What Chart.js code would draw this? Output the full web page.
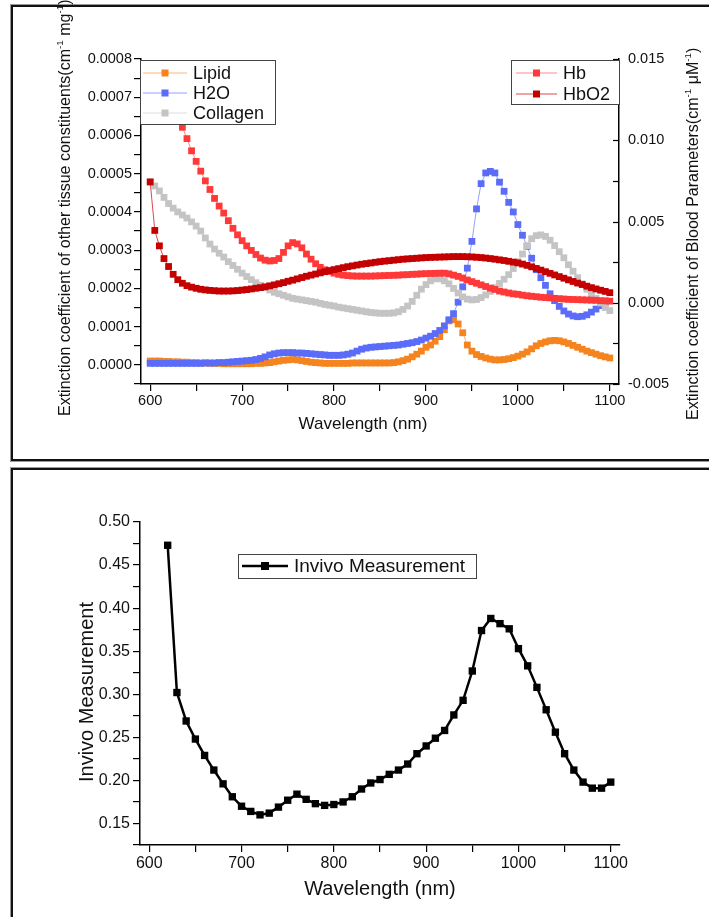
<!DOCTYPE html>
<html>
<head>
<meta charset="utf-8">
<title>Extinction spectra and in vivo measurement</title>
<script src="https://cdn.jsdelivr.net/npm/chart.js@4.4.1/dist/chart.umd.min.js"></script>
<style>
  html, body { margin: 0; padding: 0; background: #fff; }
  body { width: 709px; height: 917px; position: relative; overflow: hidden; }
  .panel { position: absolute; border: 2px solid #111; box-shadow: 0 0 0 1px #999; }
  #panelTop { left: 11px; top: 5px; width: 720px; height: 452px; }
  #panelBottom { left: 11px; top: 468px; width: 720px; height: 470px; }
  canvas { position: absolute; left: 0; }
  #spectra { top: 0; }
  #invivo { top: 460px; }
</style>
</head>
<body>
<div class="panel" id="panelTop"></div>
<div class="panel" id="panelBottom"></div>
<canvas id="spectra" width="709" height="460"></canvas>
<canvas id="invivo" width="709" height="457"></canvas>
<script>
// wavelength grid of the tabulated spectra (nm)
const wavelengths = [
  600, 605, 610, 615, 620, 625, 630, 635, 640, 645, 650, 655, 660, 665, 670, 675, 680, 685, 690, 695,
  700, 705, 710, 715, 720, 725, 730, 735, 740, 745, 750, 755, 760, 765, 770, 775, 780, 785, 790, 795,
  800, 805, 810, 815, 820, 825, 830, 835, 840, 845, 850, 855, 860, 865, 870, 875, 880, 885, 890, 895,
  900, 905, 910, 915, 920, 925, 930, 935, 940, 945, 950, 955, 960, 965, 970, 975, 980, 985, 990, 995,
  1000, 1005, 1010, 1015, 1020, 1025, 1030, 1035, 1040, 1045, 1050, 1055, 1060, 1065, 1070, 1075, 1080, 1085, 1090, 1095,
  1100
];

// other tissue constituents, in units of 1e-4 cm^-1 mg^-1
const TISSUE_UNIT = 1e-4;
const lipid = [
  0.10, 0.10, 0.10, 0.09, 0.09, 0.08, 0.08, 0.07, 0.07, 0.06, 0.06, 0.05, 0.05, 0.04, 0.04, 0.04, 0.03, 0.03, 0.03, 0.03,
  0.03, 0.03, 0.03, 0.04, 0.04, 0.05, 0.06, 0.08, 0.10, 0.12, 0.13, 0.14, 0.13, 0.11, 0.09, 0.07, 0.06, 0.05, 0.04, 0.04,
  0.04, 0.04, 0.04, 0.04, 0.05, 0.05, 0.05, 0.05, 0.05, 0.05, 0.05, 0.05, 0.05, 0.06, 0.08, 0.11, 0.15, 0.21, 0.28, 0.36,
  0.46, 0.52, 0.62, 0.74, 0.92, 1.15, 1.18, 1.07, 0.84, 0.52, 0.36, 0.27, 0.22, 0.18, 0.15, 0.13, 0.13, 0.14, 0.16, 0.19,
  0.23, 0.28, 0.34, 0.42, 0.50, 0.56, 0.60, 0.63, 0.64, 0.63, 0.60, 0.56, 0.51, 0.46, 0.41, 0.36, 0.32, 0.28, 0.24, 0.21,
  0.18
];
const water = [
  0.04, 0.04, 0.04, 0.04, 0.04, 0.04, 0.04, 0.04, 0.04, 0.04, 0.04, 0.04, 0.05, 0.05, 0.05, 0.06, 0.06, 0.07, 0.08, 0.09,
  0.10, 0.11, 0.12, 0.14, 0.17, 0.21, 0.26, 0.29, 0.31, 0.32, 0.32, 0.32, 0.31, 0.31, 0.30, 0.29, 0.28, 0.27, 0.26, 0.25,
  0.25, 0.25, 0.26, 0.28, 0.31, 0.36, 0.41, 0.44, 0.46, 0.47, 0.48, 0.49, 0.50, 0.51, 0.52, 0.54, 0.56, 0.58, 0.61, 0.65,
  0.70, 0.75, 0.82, 0.90, 1.02, 1.18, 1.34, 1.64, 2.04, 2.53, 3.23, 4.08, 4.74, 5.02, 5.06, 5.02, 4.78, 4.54, 4.25, 4.00,
  3.67, 3.39, 3.10, 2.79, 2.49, 2.28, 2.08, 1.86, 1.68, 1.53, 1.41, 1.33, 1.28, 1.26, 1.27, 1.31, 1.38, 1.46, 1.55, 1.62,
  null
];
const collagen = [
  4.80, 4.68, 4.55, 4.38, 4.22, 4.10, 4.00, 3.92, 3.84, 3.74, 3.63, 3.50, 3.32, 3.16, 3.03, 2.92, 2.82, 2.70, 2.60, 2.50,
  2.40, 2.31, 2.23, 2.15, 2.08, 2.02, 1.96, 1.90, 1.86, 1.82, 1.78, 1.74, 1.72, 1.70, 1.68, 1.66, 1.64, 1.61, 1.58, 1.56,
  1.54, 1.51, 1.49, 1.47, 1.45, 1.43, 1.41, 1.39, 1.37, 1.36, 1.35, 1.35, 1.35, 1.36, 1.39, 1.45, 1.54, 1.66, 1.82, 1.98,
  2.10, 2.20, 2.25, 2.25, 2.20, 2.12, 2.00, 1.88, 1.78, 1.72, 1.70, 1.71, 1.76, 1.83, 1.92, 2.02, 2.13, 2.24, 2.36, 2.52,
  2.70, 2.90, 3.12, 3.30, 3.38, 3.40, 3.36, 3.26, 3.12, 2.96, 2.80, 2.62, 2.45, 2.28, 2.12, 1.98, 1.86, 1.74, 1.62, 1.50,
  1.42
];

// blood parameters, in units of 1e-3 cm^-1 uM^-1
const BLOOD_UNIT = 1e-3;
const hb = [
  null, null, null, null, null, null, null, 10.8, 10.1, 9.35, 8.70, 8.10, 7.50, 6.97, 6.42, 5.95, 5.52, 5.05, 4.58, 4.18,
  3.82, 3.50, 3.22, 2.97, 2.75, 2.62, 2.57, 2.60, 2.72, 3.10, 3.50, 3.70, 3.62, 3.38, 3.00, 2.68, 2.40, 2.18, 2.03, 1.92,
  1.82, 1.75, 1.70, 1.67, 1.65, 1.64, 1.64, 1.64, 1.64, 1.65, 1.66, 1.67, 1.68, 1.69, 1.70, 1.72, 1.73, 1.75, 1.76, 1.78,
  1.79, 1.80, 1.81, 1.82, 1.82, 1.78, 1.70, 1.62, 1.52, 1.40, 1.30, 1.20, 1.10, 1.00, 0.90, 0.82, 0.72, 0.66, 0.60, 0.55,
  0.52, 0.47, 0.43, 0.40, 0.37, 0.34, 0.32, 0.30, 0.27, 0.25, 0.23, 0.21, 0.20, 0.19, 0.18, 0.17, 0.16, 0.15, 0.13, 0.12,
  0.10
];
const hbo2 = [
  7.43, 4.45, 3.50, 2.72, 2.23, 1.75, 1.42, 1.20, 1.05, 0.96, 0.89, 0.83, 0.79, 0.76, 0.74, 0.72, 0.72, 0.72, 0.73, 0.75,
  0.78, 0.81, 0.85, 0.89, 0.93, 0.98, 1.04, 1.10, 1.17, 1.24, 1.32, 1.39, 1.47, 1.55, 1.63, 1.70, 1.77, 1.84, 1.91, 1.98,
  2.04, 2.10, 2.16, 2.22, 2.27, 2.32, 2.37, 2.41, 2.45, 2.49, 2.53, 2.56, 2.59, 2.62, 2.65, 2.68, 2.70, 2.72, 2.74, 2.76,
  2.78, 2.79, 2.80, 2.81, 2.82, 2.83, 2.84, 2.84, 2.84, 2.83, 2.82, 2.80, 2.78, 2.75, 2.72, 2.68, 2.64, 2.60, 2.55, 2.50,
  2.45, 2.38, 2.30, 2.21, 2.11, 2.01, 1.91, 1.81, 1.71, 1.61, 1.51, 1.41, 1.31, 1.21, 1.12, 1.02, 0.93, 0.85, 0.77, 0.70,
  0.62
];

// in vivo measurement, 10 nm steps
const invivoNm = [
  620, 630, 640, 650, 660, 670, 680, 690, 700, 710, 720, 730, 740, 750, 760, 770, 780, 790, 800, 810,
  820, 830, 840, 850, 860, 870, 880, 890, 900, 910, 920, 930, 940, 950, 960, 970, 980, 990, 1000, 1010,
  1020, 1030, 1040, 1050, 1060, 1070, 1080, 1090, 1100
];
const invivo = [
  0.473, 0.302, 0.269, 0.248, 0.229, 0.212, 0.196, 0.181, 0.170, 0.164, 0.160, 0.162, 0.169, 0.177, 0.184, 0.178, 0.173, 0.171, 0.172, 0.175,
  0.181, 0.190, 0.197, 0.201, 0.207, 0.212, 0.219, 0.231, 0.240, 0.249, 0.258, 0.276, 0.293, 0.327, 0.374, 0.388, 0.382, 0.376, 0.353, 0.333,
  0.308, 0.282, 0.256, 0.231, 0.212, 0.198, 0.191, 0.191, 0.198
];

const FONT = '"Liberation Sans", Arial, Helvetica, sans-serif';

function toPoints(xs, ys, unit) {
  return xs.map((x, i) => ({ x: x, y: ys[i] == null ? null : ys[i] * unit }));
}

function isMultiple(v, step) {
  return Math.abs(v / step - Math.round(v / step)) < 1e-6;
}

// text runs with optional superscripts, e.g. cm^-1
function runWidth(ctx, parts, size) {
  let w = 0;
  parts.forEach(p => {
    ctx.font = (p.sup ? size * 0.62 : size) + 'px ' + FONT;
    w += ctx.measureText(p.t).width;
  });
  return w;
}

function drawRun(ctx, parts, x, y, size) {
  let cx = x;
  parts.forEach(p => {
    ctx.font = (p.sup ? size * 0.62 : size) + 'px ' + FONT;
    ctx.fillText(p.t, cx, p.sup ? y - size * 0.4 : y);
    cx += ctx.measureText(p.t).width;
  });
}

function drawTitle(ctx, t) {
  const w = runWidth(ctx, t.parts, t.size);
  const start = t.align === 'start' ? 0 : -w / 2;
  ctx.save();
  ctx.translate(t.x, t.y);
  if (t.rotate) ctx.rotate(-Math.PI / 2);
  drawRun(ctx, t.parts, start, t.size * 0.36, t.size);
  ctx.restore();
}

function drawMarker(ctx, x, y, side, color) {
  ctx.fillStyle = color;
  ctx.fillRect(x - side / 2, y - side / 2, side, side);
}

function drawLegend(chart, lg) {
  const ctx = chart.ctx;
  const [bx, by, bw, bh] = lg.box;
  ctx.fillStyle = '#fff';
  ctx.fillRect(bx, by, bw, bh);
  ctx.strokeStyle = '#444';
  ctx.lineWidth = 1;
  ctx.strokeRect(bx + 0.5, by + 0.5, bw, bh);
  lg.rows.forEach((label, i) => {
    const ds = chart.data.datasets.find(d => d.label === label);
    const y = lg.rowY[i];
    ctx.strokeStyle = ds.borderColor;
    ctx.lineWidth = ds.borderWidth;
    ctx.beginPath();
    ctx.moveTo(lg.lineX[0], y);
    ctx.lineTo(lg.lineX[1], y);
    ctx.stroke();
    drawMarker(ctx, (lg.lineX[0] + lg.lineX[1]) / 2, y, lg.marker, ds.pointBackgroundColor);
    ctx.fillStyle = '#111';
    ctx.font = lg.size + 'px ' + FONT;
    ctx.textBaseline = 'middle';
    ctx.fillText(label, lg.textX, y + 1);
    ctx.textBaseline = 'alphabetic';
  });
}

// titles, boxed legends and inward ticks drawn over the plot
const panelDecor = {
  id: 'panelDecor',
  afterDraw(chart, args, opts) {
    const ctx = chart.ctx;
    ctx.save();
    ctx.fillStyle = '#111';
    ctx.textAlign = 'left';
    ctx.textBaseline = 'alphabetic';
    (opts.titles || []).forEach(t => { ctx.fillStyle = '#111'; drawTitle(ctx, t); });
    (opts.inwardTicks || []).forEach(id => {
      const s = chart.scales[id];
      ctx.strokeStyle = '#000';
      ctx.lineWidth = 1.2;
      s.ticks.forEach(t => {
        const py = Math.round(s.getPixelForValue(t.value)) + 0.5;
        ctx.beginPath();
        ctx.moveTo(s.left - 6, py);
        ctx.lineTo(s.left, py);
        ctx.stroke();
      });
    });
    (opts.legends || []).forEach(lg => drawLegend(chart, lg));
    ctx.restore();
  }
};
Chart.register(panelDecor);

function series(label, xs, ys, unit, marker, line, axis, order, radius) {
  return {
    label: label,
    data: toPoints(xs, ys, unit),
    yAxisID: axis,
    order: order,
    borderColor: line,
    borderWidth: 1,
    pointStyle: 'rect',
    pointRadius: radius,
    pointBorderWidth: 0,
    pointBackgroundColor: marker,
    tension: 0
  };
}

const axisBorder = { display: true, color: '#000', width: 1.5 };
const tickGrid = { display: true, drawOnChartArea: false, drawTicks: true, tickLength: 7, color: '#000', lineWidth: 1.2 };

// extinction spectra, two y axes
new Chart(document.getElementById('spectra'), {
  type: 'line',
  data: {
    datasets: [
      series('HbO2', wavelengths, hbo2, BLOOD_UNIT, '#c40000', '#d94a4a', 'yBlood', 0, 4.8),
      series('Hb', wavelengths, hb, BLOOD_UNIT, '#ff3838', '#ff8a8a', 'yBlood', 1, 4.8),
      series('Collagen', wavelengths, collagen, TISSUE_UNIT, '#c4c4c4', '#dedede', 'yTissue', 2, 4.8),
      series('H2O', wavelengths, water, TISSUE_UNIT, '#5a6cf8', '#93a0ff', 'yTissue', 3, 4.8),
      series('Lipid', wavelengths, lipid, TISSUE_UNIT, '#f5841f', '#f9b57c', 'yTissue', 4, 4.8)
    ]
  },
  options: {
    responsive: false,
    animation: false,
    devicePixelRatio: 1,
    layout: { padding: { top: 59, left: 0, right: 0, bottom: 0 } },
    scales: {
      x: {
        type: 'linear', position: 'bottom', min: 590, max: 1110,
        afterFit: s => { s.height = 76; },
        border: axisBorder,
        grid: tickGrid,
        ticks: {
          stepSize: 50, includeBounds: false, autoSkip: false, maxRotation: 0, padding: 1,
          color: '#111', font: { family: FONT, size: 14.5 },
          callback: v => (v % 100 === 0 ? String(v) : '')
        }
      },
      yTissue: {
        type: 'linear', position: 'left', min: -0.00005, max: 0.0008,
        afterFit: s => { s.width = 141; },
        border: axisBorder,
        grid: tickGrid,
        ticks: {
          stepSize: 0.00005, includeBounds: false, autoSkip: false, padding: 2,
          color: '#111', font: { family: FONT, size: 14.5 },
          callback: v => (isMultiple(v, 0.0001) ? v.toFixed(4) : '')
        }
      },
      yBlood: {
        type: 'linear', position: 'right', min: -0.005, max: 0.015,
        afterFit: s => { s.width = 90; },
        border: axisBorder,
        grid: { display: false, drawTicks: false },
        ticks: {
          stepSize: 0.0025, includeBounds: false, autoSkip: false, padding: 9,
          color: '#111', font: { family: FONT, size: 14.5 },
          callback: v => (isMultiple(v, 0.005) ? v.toFixed(3) : '')
        }
      }
    },
    plugins: {
      legend: { display: false },
      tooltip: { enabled: false },
      panelDecor: {
        inwardTicks: ['yBlood'],
        titles: [
          { parts: [{ t: 'Wavelength (nm)' }], x: 363, y: 423, size: 17 },
          { parts: [{ t: 'Extinction coefficient of other tissue constituents(cm' }, { t: '-1', sup: true },
                    { t: ' mg' }, { t: '-1', sup: true }, { t: ')' }],
            x: 64, y: 416, size: 16, rotate: true, align: 'start' },
          { parts: [{ t: 'Extinction coefficient of Blood Parameters(cm' }, { t: '-1', sup: true },
                    { t: ' \u03bcM' }, { t: '-1', sup: true }, { t: ')' }],
            x: 692, y: 420, size: 16, rotate: true, align: 'start' }
        ],
        legends: [
          { box: [140, 60, 135, 64], rows: ['Lipid', 'H2O', 'Collagen'], rowY: [73, 93, 113],
            lineX: [143, 187], textX: 193, size: 18, marker: 7 },
          { box: [511, 60, 108, 44], rows: ['Hb', 'HbO2'], rowY: [73, 94],
            lineX: [516, 557], textX: 563, size: 18, marker: 7 }
        ]
      }
    }
  }
});

// in vivo measurement
new Chart(document.getElementById('invivo'), {
  type: 'line',
  data: {
    datasets: [{
      label: 'Invivo Measurement',
      data: toPoints(invivoNm, invivo, 1),
      yAxisID: 'y',
      borderColor: '#000',
      borderWidth: 2.5,
      pointStyle: 'rect',
      pointRadius: 5.2,
      pointBorderWidth: 0,
      pointBackgroundColor: '#000',
      tension: 0
    }]
  },
  options: {
    responsive: false,
    animation: false,
    devicePixelRatio: 1,
    layout: { padding: { top: 62, left: 0, right: 89, bottom: 0 } },
    scales: {
      x: {
        type: 'linear', position: 'bottom', min: 590, max: 1110,
        afterFit: s => { s.height = 72; },
        border: axisBorder,
        grid: tickGrid,
        ticks: {
          stepSize: 50, includeBounds: false, autoSkip: false, maxRotation: 0, padding: 2,
          color: '#111', font: { family: FONT, size: 16 },
          callback: v => (v % 100 === 0 ? String(v) : '')
        }
      },
      y: {
        type: 'linear', position: 'left', min: 0.125, max: 0.5,
        afterFit: s => { s.width = 140; },
        border: axisBorder,
        grid: tickGrid,
        ticks: {
          stepSize: 0.025, includeBounds: false, autoSkip: false, padding: 3,
          color: '#111', font: { family: FONT, size: 16 },
          callback: v => (isMultiple(v, 0.05) ? v.toFixed(2) : '')
        }
      }
    },
    plugins: {
      legend: { display: false },
      tooltip: { enabled: false },
      panelDecor: {
        titles: [
          { parts: [{ t: 'Wavelength (nm)' }], x: 380, y: 428, size: 20 },
          { parts: [{ t: 'Invivo Measurement' }], x: 86, y: 232, size: 20, rotate: true }
        ],
        legends: [
          { box: [238, 94, 238, 24], rows: ['Invivo Measurement'], rowY: [106],
            lineX: [242, 288], textX: 294, size: 19, marker: 8 }
        ]
      }
    }
  }
});
</script>
</body>
</html>
